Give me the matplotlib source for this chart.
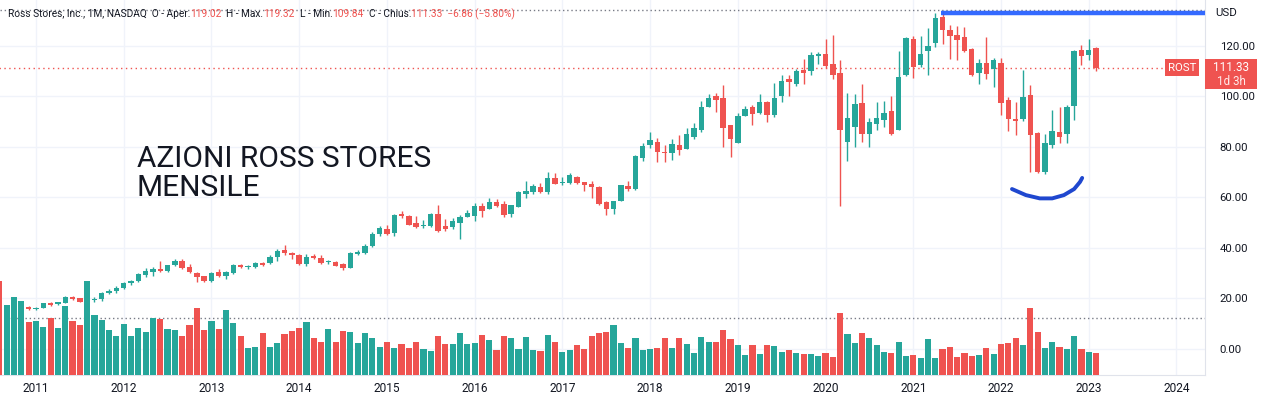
import matplotlib
matplotlib.use("Agg")
import matplotlib.pyplot as plt
import numpy as np
import pandas as pd
from matplotlib.patches import Rectangle

# monthly candles, Aug 2010 .. Feb 2023
months = pd.period_range("2010-08", periods=151, freq="M")

opens = [13.5, 13.0, 13.7, 14.9, 16.7,
         15.8, 16.3, 18.3, 17.7, 18.4, 20.4, 20.0, 18.7, 19.2, 19.6, 22.0, 23.0,
         24.2, 26.0, 27.0, 29.3, 30.5, 31.7, 31.0, 33.2, 34.9, 32.3, 30.1, 28.8,
         27.0, 30.6, 29.0, 30.2, 33.4, 32.3, 32.6, 34.0, 34.0, 36.5, 39.2, 38.1,
         37.2, 33.6, 37.0, 36.1, 34.3, 34.5, 33.6, 32.2, 37.7, 37.9, 40.8, 45.5,
         47.5, 46.0, 53.3, 52.6, 50.0, 48.6, 48.7, 53.4, 48.7, 48.4, 50.0, 52.4,
         52.6, 56.6, 55.5, 58.2, 57.5, 53.4, 56.3, 61.5, 62.1, 64.0, 62.0, 67.7,
         65.6, 65.7, 68.2, 66.1, 65.3, 64.1, 58.2, 55.5, 58.7, 64.6, 63.3, 75.7,
         80.7, 81.9, 78.0, 77.7, 80.7, 79.3, 83.8, 86.7, 95.8, 100.1, 99.3, 88.6,
         81.5, 92.2, 95.8, 93.4, 97.7, 92.6, 100.1, 106.8, 104.9, 110.4, 110.0, 116.1,
         116.7, 112.8, 109.2, 82.0, 87.9, 97.3, 85.1, 89.0, 90.6, 94.2, 86.7, 108.4,
         122.7, 112.4, 117.9, 121.1, 131.4, 126.2, 124.3, 123.5, 118.7, 109.2, 113.2, 110.8,
         113.2, 98.5, 91.0, 91.0, 100.5, 85.5, 70.0, 80.7, 85.9, 85.1, 96.2, 118.3,
         116.3, 119.02]
highs = [13.9, 14.0, 15.5, 16.9, 17.0,
         16.8, 18.3, 18.7, 18.7, 21.0, 21.0, 20.3, 20.0, 20.7, 22.7, 23.6, 24.9,
         26.5, 27.3, 30.0, 31.9, 32.6, 34.8, 33.4, 35.6, 35.5, 33.6, 30.4, 28.8,
         30.5, 31.5, 30.7, 33.5, 33.7, 33.2, 34.4, 34.5, 37.3, 39.5, 41.2, 38.4,
         37.6, 37.5, 37.6, 37.2, 35.3, 34.9, 33.9, 38.3, 39.2, 41.6, 46.3, 48.6,
         49.1, 53.4, 54.7, 53.0, 52.6, 51.0, 53.9, 57.0, 51.3, 51.8, 52.9, 55.0,
         57.7, 57.7, 59.9, 59.4, 58.7, 57.0, 62.5, 66.5, 65.2, 65.6, 70.0, 69.5,
         68.2, 69.5, 68.6, 66.1, 66.6, 64.5, 58.6, 58.6, 65.0, 66.5, 76.7, 81.7,
         85.9, 83.6, 80.7, 83.1, 84.7, 87.5, 89.4, 98.3, 100.9, 101.3, 104.5, 88.6,
         93.4, 96.2, 96.6, 100.9, 98.1, 105.3, 108.4, 108.4, 110.8, 114.8, 117.5, 117.5,
         122.7, 124.3, 114.4, 101.3, 100.9, 104.9, 91.4, 97.7, 98.1, 100.1, 117.9, 123.5,
         123.9, 123.9, 127.0, 133.0, 133.8, 128.2, 127.8, 127.4, 119.3, 114.8, 123.5, 115.2,
         115.2, 99.7, 97.7, 110.4, 104.5, 85.9, 85.1, 94.6, 95.8, 96.6, 118.3, 120.3,
         122.7, 119.32]
lows = [12.6, 12.8, 13.5, 14.7, 15.5,
        15.5, 16.1, 17.1, 17.5, 18.1, 19.3, 18.5, 17.0, 18.5, 19.1, 21.6, 22.0,
        23.6, 25.2, 26.6, 28.4, 29.0, 30.5, 30.4, 32.8, 31.5, 30.0, 26.5, 26.4,
        26.6, 28.6, 27.8, 29.6, 32.1, 31.8, 32.2, 32.8, 33.5, 34.9, 37.2, 35.5,
        33.2, 33.0, 35.6, 33.6, 33.5, 32.8, 31.3, 32.0, 37.2, 37.6, 40.5, 44.8,
        45.1, 44.7, 52.0, 49.0, 48.0, 47.9, 48.4, 46.4, 46.8, 47.5, 43.5, 52.4,
        50.7, 52.4, 55.3, 56.3, 52.1, 52.4, 56.0, 59.9, 61.2, 61.6, 61.2, 65.2,
        64.9, 65.4, 65.2, 62.7, 59.9, 57.0, 53.1, 53.3, 58.5, 62.5, 63.0, 74.4,
        79.7, 74.0, 74.0, 74.8, 76.8, 79.3, 83.2, 86.0, 95.8, 93.8, 79.9, 76.0,
        81.5, 92.2, 88.6, 93.0, 89.8, 91.8, 97.7, 100.1, 104.1, 104.9, 108.4, 112.8,
        111.1, 106.8, 56.6, 74.4, 79.9, 81.9, 79.9, 86.7, 87.9, 84.7, 86.7, 108.0,
        107.2, 111.6, 108.4, 119.5, 120.7, 114.8, 114.4, 117.5, 108.0, 104.9, 106.8, 103.7,
        92.6, 86.3, 84.7, 90.2, 70.0, 69.6, 69.3, 79.5, 81.5, 81.5, 90.6, 112.4,
        114.4, 109.84]
closes = [12.9, 13.7, 14.9, 16.6, 15.8,
          16.2, 18.1, 17.6, 18.6, 20.4, 19.8, 18.7, 19.2, 19.6, 22.2, 23.0, 24.3,
          26.0, 27.0, 29.5, 31.0, 31.8, 30.9, 33.2, 34.8, 32.2, 30.5, 28.6, 27.0,
          30.1, 29.0, 30.5, 33.2, 32.3, 32.6, 34.2, 33.1, 36.5, 38.9, 38.1, 37.3,
          33.6, 36.5, 35.9, 34.2, 34.5, 33.0, 32.2, 38.0, 38.3, 40.8, 45.5, 47.8,
          45.5, 53.0, 52.8, 49.1, 48.4, 49.2, 53.4, 46.8, 47.6, 50.7, 52.2, 53.9,
          56.6, 54.6, 58.3, 56.6, 53.0, 57.0, 62.1, 62.5, 64.6, 62.3, 67.8, 65.4,
          65.9, 69.0, 65.6, 64.9, 64.0, 57.5, 55.3, 58.6, 65.0, 63.4, 76.4, 80.3,
          82.7, 78.0, 77.7, 81.1, 78.7, 85.1, 87.5, 95.8, 99.3, 98.5, 87.5, 83.1,
          92.2, 95.0, 93.1, 97.7, 92.6, 99.3, 106.1, 105.7, 110.0, 109.2, 116.3, 116.7,
          112.0, 108.4, 86.7, 91.4, 97.0, 85.1, 89.8, 91.4, 93.4, 85.1, 107.6, 123.1,
          111.6, 116.7, 119.9, 131.0, 126.2, 123.9, 122.3, 117.9, 108.4, 113.2, 108.8, 114.4,
          97.3, 91.0, 90.3, 99.7, 84.7, 70.0, 81.5, 86.3, 83.9, 95.8, 117.9, 115.9,
          118.19, 111.33]
# volume, millions of shares
volumes = [188, 140, 156, 148, 106,
           108, 96, 114, 94, 138, 108, 100, 188, 120, 110, 90, 78,
           102, 78, 94, 86, 114, 112, 92, 90, 78, 100, 134, 90,
           108, 92, 130, 104, 78, 54, 56, 84, 56, 64, 82, 88,
           94, 106, 74, 66, 92, 66, 88, 86, 64, 84, 74, 56,
           66, 54, 62, 54, 66, 52, 48, 78, 62, 62, 84, 62,
           64, 80, 70, 50, 78, 74, 52, 76, 50, 48, 80, 66,
           46, 50, 60, 52, 78, 84, 86, 100, 64, 54, 74, 50,
           52, 54, 74, 54, 74, 62, 44, 76, 66, 66, 90, 72,
           60, 40, 60, 42, 60, 58, 46, 50, 44, 42, 42, 38,
           44, 36, 124, 82, 64, 84, 74, 60, 46, 44, 66, 38,
           40, 34, 72, 34, 52, 56, 36, 44, 38, 40, 54, 42,
           62, 64, 74, 60, 134, 86, 54, 66, 56, 52, 78, 52,
           46, 44]

year_ticks = list(range(2011, 2025))
price_ticks = [0, 20, 40, 60, 80, 100, 120]
ath_level = 134.1
vol_guide = 12.15
# drawings made on the chart
resistance_start, resistance_level = "2021-05", 132.85
smile_x = [138.5, 140.4, 142.3, 144.0, 145.6, 147.0, 147.8, 148.1]
smile_y = [63.3, 60.9, 59.6, 59.6, 60.9, 63.3, 66.1, 67.7]
note_x, note_y = 18.8, 69.3

UP = "#26a69a"
DOWN = "#ef5350"
TXT = "#131722"
GRID = "#f0f3fa"

W, H = 1263, 399
fig = plt.figure(figsize=(W / 100, H / 100), dpi=100)
fig.patch.set_facecolor("white")
ax = fig.add_axes([0, 24 / H, 1205 / W, 375 / H])

x = np.arange(len(months))
o = np.array(opens)
c = np.array(closes)
colors = np.where(c >= o, UP, DOWN)

ax.vlines(x, lows, highs, color=colors, lw=1.0, zorder=3)
body = np.maximum(np.abs(c - o), 0.4)
ax.bar(x, body, bottom=np.minimum(o, c), width=0.74, color=colors, zorder=4)

ax.set_xlim(0.08, 164.9)
ax.set_ylim(-10.29, 138.11)

# volume overlay
ax2 = ax.twinx()
ax2.bar(x, volumes, width=0.84, color=colors, zorder=3)
ax2.set_ylim(0, 750)
ax2.axis("off")

# drawings layer (on top of everything)
ax3 = ax.twinx()
ax3.set_ylim(ax.get_ylim())
ax3.axis("off")

jan = [i for i, p in enumerate(months) if p.month == 1]
jan_pos = jan + [jan[-1] + 12]
ax.set_xticks(jan_pos)
ax.set_xticklabels([str(y) for y in year_ticks], fontsize=8.6, color=TXT, family="Roboto")
ax.set_yticks(price_ticks)
ax.set_yticklabels([f"{v:.2f}" for v in price_ticks], fontsize=8.2, color=TXT, family="Roboto")
ax.tick_params(axis="y", left=False, labelleft=False, right=False, labelright=True, pad=7)
ax.tick_params(axis="x", length=0, pad=5)
ax.grid(True, color=GRID, lw=1.0, zorder=0)
ax.set_axisbelow(True)
for s in ["top", "left"]:
    ax.spines[s].set_visible(False)
ax.spines["right"].set_color("#e0e3eb")
ax.spines["bottom"].set_color("#e0e3eb")

# dotted guide lines
ax.axhline(ath_level, color="#787b86", lw=1.0, ls=(0, (1, 2)), zorder=2)
ax.axhline(vol_guide, color="#787b86", lw=1.0, ls=(0, (1, 2)), zorder=2)
last = closes[-1]
ax.plot([0, 159.3], [last, last], color=DOWN, lw=1.0, ls=(0, (1, 2.5)), zorder=2)

rs = months.get_loc(pd.Period(resistance_start, freq="M")) - 0.25
ax3.plot([rs, 165], [resistance_level] * 2, color="#2962ff", lw=3.2,
         solid_capstyle="butt", alpha=0.95)
ax3.plot(smile_x, smile_y, color="#1f47cf", lw=2.8, solid_capstyle="round")
ax3.text(note_x, note_y, "AZIONI ROSS STORES\nMENSILE", fontsize=21.5,
         family="Roboto", color="#131722", va="center", ha="left", linespacing=1.05)

# last price labels
ylast = ax.transData.transform((0, last))[1]
ytop = (ylast + 8.4) / H
rost = Rectangle((1165 / W, ytop - 16.8 / H), 34 / W, 16.8 / H, transform=fig.transFigure,
                 facecolor=DOWN, edgecolor="none")
fig.patches.append(rost)
fig.text(1182 / W, ytop - 8.4 / H, "ROST", color="white", fontsize=8.2, family="Roboto",
         ha="center", va="center")
plab = Rectangle((1205 / W, ytop - 30 / H), 52 / W, 30 / H, transform=fig.transFigure,
                 facecolor=DOWN, edgecolor="none")
fig.patches.append(plab)
fig.text(1231 / W, ytop - 8.0 / H, f"{last:.2f}", color="white", fontsize=8.4,
         family="Roboto", ha="center", va="center")
fig.text(1231 / W, ytop - 22.0 / H, "1d 3h", color="#ffe9e9", fontsize=8.4,
         family="Roboto", ha="center", va="center")
fig.text(1215 / W, 1 - 13 / H, "USD", color=TXT, fontsize=8.2, family="Roboto",
         ha="left", va="center")

# header legend
chg = closes[-1] - closes[-2]
pct = chg / closes[-2] * 100
parts = [("Ross Stores, Inc., 1M, NASDAQ  O - Aper.", TXT), (f"{opens[-1]:.2f}", DOWN),
         ("  H - Max.", TXT), (f"{highs[-1]:.2f}", DOWN),
         ("  L - Min.", TXT), (f"{lows[-1]:.2f}", DOWN),
         ("  C - Chius.", TXT),
         (f"{closes[-1]:.2f}  \u2212{abs(chg):.2f} (\u2212{abs(pct):.2f}%)", DOWN)]
fig.canvas.draw()
rend = fig.canvas.get_renderer()
xp = 7.5
for s, col in parts:
    t = fig.text(xp / W, 1 - 14 / H, s, color=col, fontsize=7.25, family="Roboto",
                 ha="left", va="center")
    xp += t.get_window_extent(rend).width

fig.savefig("out.png", dpi=100)
